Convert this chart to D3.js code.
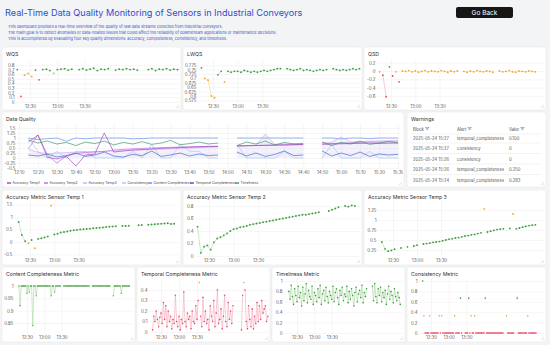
<!DOCTYPE html>
<html>
<head>
<meta charset="utf-8">
<script src="https://cdn.jsdelivr.net/npm/d3@7"></script>
<style>
  body { margin:0; background:#f3f4f5; }
  svg text { font-family: Inter, "Noto Sans", sans-serif; }
</style>
</head>
<body>
<svg id="dash"></svg>
<script>
var t = d3.timeParse("%H:%M");

// sample grids (timestamps of the readings)
var fineStart = t("12:16"), fineStep = 4, fineN = 49;    // rows 1 and 3
var denseStart = t("12:16"), denseStep = 2, denseN = 97;  // row 4
var dqStart = t("12:15"), dqStep = 5, dqN = 40;           // data quality

// row 1
var wqsValues = [0.70,0.12,0.58,0.62,0.55,0.69,0.48,0.70,0.71,0.68,
  0.62,0.70,0.71,0.72,0.69,0.71,null,0.70,0.72,0.69,
  0.71,0.73,0.68,0.71,0.70,0.72,null,0.69,0.71,0.70,
  0.72,0.70,0.71,0.69,null,null,0.70,0.72,0.68,0.71,
  0.70,0.72,0.69,0.71,0.70,0.72,0.69,0.71,0.70];
var lwqsValues = [0.76,0.70,0.69,0.60,0.59,0.72,0.74,0.68,0.74,0.735,
  0.74,0.74,0.735,0.745,0.74,0.735,0.74,0.735,0.74,0.745,
  0.74,0.745,0.75,0.755,0.755,null,0.755,0.75,0.745,0.75,
  0.755,0.745,0.75,0.745,0.74,0.745,0.75,0.745,0.75,null,
  0.755,0.75,0.745,0.75,0.745,0.75,0.755,0.75,0.755];
var qsdValues = [-0.02,-0.10,-0.62,0.10,-0.12,-0.02,-0.26,0.00,-0.01,0.01,
  -0.02,0.00,-0.03,-0.01,0.01,-0.02,0.00,-0.01,-0.02,0.01,
  -0.01,-0.03,0.00,-0.02,0.00,null,-0.01,-0.03,0.00,-0.02,
  0.01,-0.01,-0.02,0.00,-0.01,-0.03,null,0.00,-0.02,-0.01,
  0.01,-0.02,-0.03,0.00,-0.01,-0.02,0.00,-0.01,-0.02];

// row 3
var acc1Values = [0.80,0.28,0.03,-0.05,0.08,-0.25,0.12,0.15,0.18,0.22,
  1.45,0.30,0.33,0.38,0.40,0.42,0.45,0.47,0.48,0.50,
  0.51,0.52,0.53,0.55,0.56,0.57,0.58,0.60,0.61,0.62,
  0.63,null,0.64,0.64,0.65,null,null,0.67,0.68,null,
  0.69,0.70,0.71,0.72,0.73,0.74,0.75,0.72,0.73];
var acc2Values = [0.47,0.05,0.15,0.17,0.10,0.22,0.28,0.30,0.33,0.36,
  0.40,0.43,0.44,0.46,0.47,0.48,0.50,0.51,0.52,0.53,
  0.54,0.55,0.56,0.57,0.58,0.59,0.60,0.61,0.62,0.63,
  0.64,0.65,0.66,0.66,0.67,0.68,0.69,0.70,null,null,
  0.72,0.74,0.76,0.78,null,0.80,0.79,0.81,0.80];
var acc3Values = [0.45,0.28,0.22,0.24,0.27,null,0.30,null,0.33,null,
  0.35,0.37,null,0.40,0.41,0.42,0.44,0.45,0.46,0.48,
  0.50,0.52,0.53,0.55,0.56,0.58,0.60,0.61,0.63,0.64,
  0.66,0.68,1.28,0.70,0.72,0.74,0.76,0.77,0.78,null,
  0.79,1.15,0.78,0.80,0.82,0.84,0.86,0.87,0.88];

// row 4
var contentValues = [1,0.92,1,1,1,1,1,0.97,1,0.975,
  1,1,0.84,1,1,0.96,1,1,1,1,
  1,1,1,1,1,1,1,1,0.96,1,
  1,0.975,1,1,1,1,1,null,null,1,
  1,1,1,1,1,1,1,1,1,1,
  1,1,1,1,1,1,1,1,1,1,
  1,1,null,null,1,1,1,1,1,1,
  1,1,1,1,1,1,1,1,1,1,
  null,null,0.96,1,1,1,1,1,1,0.97,
  1,1,1,1,1,1,1];
var temporalValues = [0.02,0.15,0.10,0.20,0.12,0.05,0.14,0.18,0.08,0.28,
  0.12,0.25,0.05,0.20,0.10,0.15,0.03,0.12,0.08,0.35,
  0.10,0.05,0.15,0.02,0.12,0.08,0.38,0.10,0.05,0.18,
  0.12,0.15,0.03,0.20,0.10,0.08,0.25,0.12,0.30,0.47,
  0.15,0.05,0.33,0.10,0.20,0.08,0.12,0.02,0.25,0.15,
  0.10,0.30,0.05,0.18,0.40,0.08,0.12,0.22,0.03,0.15,
  0.35,0.10,0.05,0.28,0.12,0.20,0.08,0.25,null,null,
  null,null,null,null,0.02,0.35,0.47,0.40,0.10,0.03,
  0.25,0.12,0.05,0.22,0.03,0.15,0.08,0.28,0.10,0.25,
  0.12,0.30,0.18,0.22,0.25,0.10,0.15];
var timelinessValues = [0.80,0.65,0.92,0.70,0.55,0.85,0.72,0.60,0.90,0.68,
  0.78,0.52,0.88,0.62,0.75,0.95,0.58,0.82,0.70,0.65,
  0.90,0.55,0.78,0.72,0.60,0.85,0.68,0.92,0.55,0.75,
  0.82,0.62,0.88,0.70,0.58,0.80,0.72,0.65,0.90,0.60,
  0.78,0.85,0.68,0.55,0.82,0.72,0.88,0.62,0.75,0.70,
  0.90,0.58,0.80,0.65,0.85,0.72,0.52,0.78,0.88,0.60,
  0.75,0.82,0.68,0.92,0.58,0.78,0.70,0.85,null,null,
  null,null,0.90,0.62,0.95,0.70,0.58,0.85,0.72,0.88,
  0.60,0.78,0.68,0.82,0.55,0.75,0.90,0.65,0.80,0.72,
  0.58,0.85,0.70,0.62,0.78,0.68,0.55];
var consistencyValues = [1,0.33,0,0,0,0,0.33,0,0,0,
  0,0,0,0,0.33,0,0.33,0,0,0,
  0,0,0,0,0,0,0,0.33,0,0,
  0,0,0.67,0,null,null,0,0,0,0.67,
  0,0.33,0,0,0.33,0,0,0,0,0,
  0,0,0,0.67,0,0,0,0,0,0,
  0,0,0,0,0,0,0,0,0,null,
  null,0.33,0,0,0,0,0,0,null,null,
  0.67,0,0,0,0,0,0,0,0,0.33,
  0,0,0,0,0,0,0];

// data quality (all dimensions)
var dqSeriesNames = ["Accuracy Temp1","Accuracy Temp2","Accuracy Temp3","Consistency",
  "Content Completeness","Temporal Completeness","Timeliness"];
var dqAcc1 = [0.80,1.15,0.03,-0.05,0.08,-0.40,0.15,0.20,1.25,0.30,
  0.35,0.40,0.42,0.45,0.48,0.50,0.52,0.54,0.56,0.57,
  0.58,null,0.60,0.61,0.62,0.63,0.64,0.65,0.66,0.67,
  null,0.69,0.70,0.71,0.72,0.73,0.74,0.73,0.74,0.75];
var dqAcc2 = [0.47,1.15,0.15,-0.25,0.10,0.22,0.28,0.30,0.33,0.40,
  0.43,0.46,0.48,0.50,0.52,0.53,0.55,0.56,0.57,0.58,
  0.59,null,0.61,0.62,0.63,0.64,0.65,0.66,0.67,0.68,
  null,0.70,0.72,0.74,0.76,0.78,0.80,0.79,0.81,0.80];
var dqAcc3 = [0.45,0.28,0.22,0.25,0.27,0.29,0.30,0.32,0.33,0.35,
  0.37,0.39,0.41,0.43,0.44,0.46,0.48,0.50,0.52,0.54,
  0.56,null,0.60,0.62,0.64,1.20,0.68,0.70,0.72,0.74,
  null,0.78,0.79,1.05,0.80,0.82,0.84,0.86,0.87,0.88];
var dqConsistency = [1,0.33,0,0.33,0,0.33,0.33,0,0,0,
  0,0.33,0,0.67,0,0,0.67,0.33,0.33,0,
  0,null,0.67,0,0,0,0,0.33,0,0,
  null,0,0.67,0,0,0,0.33,0,0,0];
var dqContent = [1,0.92,0.97,1,0.84,1,0.96,1,1,1,
  1,0.96,0.97,1,1,1,1,1,1,1,
  1,null,1,1,1,1,1,1,1,1,
  null,1,1,0.96,1,1,0.97,1,1,1];
var dqTemporal = [0.15,0.10,0.20,0.05,0.12,0.25,0.08,0.15,0.30,0.10,
  0.05,0.18,0.12,0.35,0.08,0.15,0.25,0.10,0.20,0.12,
  0.15,null,0.30,0.10,0.25,0.08,0.18,0.35,0.12,0.15,
  null,0.35,0.10,0.25,0.12,0.30,0.08,0.20,0.15,0.18];
var dqTimeliness = [0.90,0.75,0.85,0.70,0.78,0.62,0.80,0.72,0.85,0.65,
  0.78,0.70,0.82,0.68,0.75,0.88,0.66,0.72,0.80,0.70,
  0.75,null,0.62,0.80,0.70,0.85,0.65,0.78,0.70,0.72,
  null,0.80,0.62,0.78,0.70,0.85,0.68,0.75,0.82,0.76];

// tick values
var wqsTicks = [0,0.1,0.2,0.3,0.4,0.5,0.6,0.7,0.8];
var lwqsTicks = [0.575,0.6,0.625,0.65,0.675,0.7,0.725,0.75,0.775];
var qsdTicks = [-0.6,-0.4,-0.2,0,0.2];
var acc1Ticks = [-0.5,0,0.5,1,1.5];
var acc2Ticks = [0,0.2,0.4,0.6,0.8];
var acc3Ticks = [0.25,0.5,0.75,1,1.25];
var contentTicks = [0.85,0.9,0.95,1];
var temporalTicks = [0,0.1,0.2,0.3,0.4];
var unitTicks = [0,0.2,0.4,0.6,0.8,1];
var dqTicks = [-0.5,-0.25,0,0.25,0.5,0.75,1,1.25,1.5];

// warnings table
var warnHeaders = ["Block","Alert","Valor"];
var warnBlock = ["2025-05-24 15:27","2025-05-24 15:27","2025-05-24 15:26","2025-05-24 15:26","2025-05-24 15:24"];
var warnAlert = ["temporal_completeness","consistency","consistency","temporal_completeness","temporal_completeness"];
var warnValor = ["0.100","0","0","0.250","0.283"];

var titleText = "Real-Time Data Quality Monitoring of Sensors in Industrial Conveyors";
var descLines = [
  "This dashboard provides a real-time overview of the quality of raw data streams collected from industrial conveyors.",
  "The main goal is to detect anomalies or data-related issues that could affect the reliability of downstream applications or maintenance decisions.",
  "This is accomplished by evaluating four key quality dimensions: accuracy, completeness, consistency, and timeliness."
];

// ---------------------------------------------------------------
var W = 550, H = 345;
var svg = d3.select("#dash").attr("width", W).attr("height", H);
svg.append("rect").attr("width", W).attr("height", H).attr("fill", "#f3f4f5");

var sampleTimes = function(start, step, n){
  return d3.range(n).map(function(i){ return d3.timeMinute.offset(start, i*step); });
};
var fineTimes = sampleTimes(fineStart, fineStep, fineN);
var denseTimes = sampleTimes(denseStart, denseStep, denseN);
var dqTimes = sampleTimes(dqStart, dqStep, dqN);

var fmt = function(v){ return String(+v.toFixed(3)); };
var timeFmt = d3.timeFormat("%H:%M");

// scale a text's font so that it spans the width
var fitWidth = function(sel, w){
  var cur = sel.node().getComputedTextLength();
  var fs = parseFloat(sel.attr("font-size")) * w / cur;
  sel.attr("font-size", fs);
  return fs;
};

// header
var title = svg.append("text").attr("x", 5).attr("y", 16).attr("font-size", 11)
  .attr("fill", "#2f4ccf").text(titleText);
fitWidth(title, 298);
var descWidths = [215, 268, 219];
descLines.forEach(function(s, i){
  var d = svg.append("text").attr("x", 8).attr("y", 27.5 + i*6).attr("font-size", 4.2)
    .attr("fill", "#3b55c4").text(s);
  fitWidth(d, descWidths[i]);
});
svg.append("rect").attr("x", 456).attr("y", 7).attr("width", 57).attr("height", 11)
  .attr("rx", 2).attr("fill", "#161616");
svg.append("text").attr("x", 484.5).attr("y", 15).attr("text-anchor", "middle")
  .attr("font-size", 6.5).attr("fill", "#fff").text("Go Back");

// panels
var panels = {
  wqs:   {x:2,   y:47,  w:179, h:63, title:"WQS"},
  lwqs:  {x:183, y:47,  w:179, h:63, title:"LWQS"},
  qsd:   {x:364, y:47,  w:182, h:63, title:"QSD"},
  dq:    {x:2,   y:112, w:402, h:75, title:"Data Quality"},
  warn:  {x:407, y:112, w:139, h:75, title:"Warnings"},
  acc1:  {x:2,   y:190, w:179, h:75, title:"Accuracy Metric Sensor Temp 1"},
  acc2:  {x:183, y:190, w:179, h:75, title:"Accuracy Metric Sensor Temp 2"},
  acc3:  {x:364, y:190, w:182, h:75, title:"Accuracy Metric Sensor Temp 3"},
  content:     {x:2,   y:267, w:133, h:75, title:"Content Completeness Metric"},
  temporal:    {x:137, y:267, w:133, h:75, title:"Temporal Completeness Metric"},
  timeliness:  {x:272, y:267, w:133, h:75, title:"Timeliness Metric"},
  consistency: {x:407, y:267, w:139, h:75, title:"Consistency Metric"}
};

var defs = svg.append("defs");
Object.keys(panels).forEach(function(k){
  var p = panels[k];
  svg.append("rect").attr("x", p.x).attr("y", p.y).attr("width", p.w).attr("height", p.h)
    .attr("rx", 3).attr("fill", "#fff").attr("stroke", "#e4e5e7").attr("stroke-width", 0.5);
  svg.append("text").attr("x", p.x + 4).attr("y", p.y + 8.5).attr("font-size", 5.2)
    .attr("fill", "#333").text(p.title);
  defs.append("clipPath").attr("id", "clip-" + k).append("rect")
    .attr("x", p.x + 1).attr("y", p.y + 1).attr("width", p.w - 2).attr("height", p.h - 2);
  // resize handle
  svg.append("path")
    .attr("d", "M" + (p.x+p.w-2) + "," + (p.y+p.h-5) + "L" + (p.x+p.w-5) + "," + (p.y+p.h-2)
      + "M" + (p.x+p.w-2) + "," + (p.y+p.h-3.2) + "L" + (p.x+p.w-3.2) + "," + (p.y+p.h-2))
    .attr("stroke", "#b8b8b8").attr("stroke-width", 0.4);
});

var palette = {
  g: {dot:"#3f9b3f", line:"#a6d8a0"},
  o: {dot:"#f4a62a", line:"#f8cf8c"},
  r: {dot:"#ec4467", line:"#f5a8b8"}
};

var styleAxis = function(g){
  g.select(".domain").remove();
  g.selectAll(".tick line").attr("stroke", "#ececec").attr("stroke-width", 0.5);
  g.selectAll(".tick text").attr("font-size", 4.4).attr("fill", "#555")
    .attr("font-family", "Inter, sans-serif");
};

var drawMetric = function(c){
  var p = panels[c.panel];
  var g = svg.append("g").attr("clip-path", "url(#clip-" + c.panel + ")");
  var x = d3.scaleTime().domain([t("12:30"), t("13:30")])
    .range([p.x + c.off, p.x + c.off + 60*c.ppm]);
  var y = d3.scaleLinear().domain(c.yDomain).range([c.bottom, c.top]);
  var left = p.x + c.left, right = p.x + p.w - 2;

  g.append("g").attr("transform", "translate(" + left + ",0)")
    .call(d3.axisLeft(y).tickValues(c.ticks).tickFormat(fmt)
      .tickSize(-(right - left)).tickPadding(1.5))
    .call(styleAxis);
  g.append("g").attr("transform", "translate(0," + c.bottom + ")")
    .call(d3.axisBottom(x).ticks(d3.timeMinute.every(30)).tickFormat(timeFmt)
      .tickSize(-(c.bottom - c.top)).tickPadding(1.5))
    .call(styleAxis);

  var pts = c.values.map(function(v, i){ return {t:c.times[i], v:v, k: v == null ? null : c.cls(v)}; });
  var segs = [];
  for (var i = 1; i < pts.length; i++) {
    if (pts[i].v != null && pts[i-1].v != null && pts[i].k === pts[i-1].k) segs.push([pts[i-1], pts[i]]);
  }
  g.selectAll("line.seg").data(segs).enter().append("line").attr("class", "seg")
    .attr("x1", function(d){ return x(d[0].t); }).attr("y1", function(d){ return y(d[0].v); })
    .attr("x2", function(d){ return x(d[1].t); }).attr("y2", function(d){ return y(d[1].v); })
    .attr("stroke", function(d){ return palette[d[0].k].line; }).attr("stroke-width", 0.6);
  g.selectAll("circle").data(pts.filter(function(d){ return d.v != null; })).enter().append("circle")
    .attr("cx", function(d){ return x(d.t); }).attr("cy", function(d){ return y(d.v); })
    .attr("r", c.r || 0.9).attr("fill", function(d){ return palette[d.k].dot; });
};

var metricCharts = [
  {panel:"wqs", times:fineTimes, values:wqsValues, ticks:wqsTicks, yDomain:[-0.022,0.908],
   top:60, bottom:103, left:14, off:28, ppm:0.91,
   cls:function(v){ return v >= 0.65 ? "g" : v >= 0.5 ? "o" : "r"; }},
  {panel:"lwqs", times:fineTimes, values:lwqsValues, ticks:lwqsTicks, yDomain:[0.5602,0.8045],
   top:60, bottom:103, left:15, off:30, ppm:0.823,
   cls:function(v){ return v >= 0.705 ? "g" : "o"; }},
  {panel:"qsd", times:fineTimes, values:qsdValues, ticks:qsdTicks, yDomain:[-0.771,0.265],
   top:60, bottom:103, left:13, off:27, ppm:0.81,
   cls:function(v){ return v > 0.06 ? "g" : v < -0.08 ? "r" : "o"; }},
  {panel:"acc1", times:fineTimes, values:acc1Values, ticks:acc1Ticks, yDomain:[-0.6,1.68],
   top:200, bottom:257, left:12, off:28, ppm:0.81,
   cls:function(v){ return v >= 0 && v <= 1 ? "g" : "o"; }},
  {panel:"acc2", times:fineTimes, values:acc2Values, ticks:acc2Ticks, yDomain:[-0.016,0.896],
   top:200, bottom:257, left:12, off:26, ppm:0.82,
   cls:function(v){ return v >= 0 && v <= 1 ? "g" : "o"; }},
  {panel:"acc3", times:fineTimes, values:acc3Values, ticks:acc3Ticks, yDomain:[0.075,1.5],
   top:200, bottom:257, left:14, off:29, ppm:0.80,
   cls:function(v){ return v >= 0 && v <= 1 ? "g" : "o"; }},
  {panel:"content", times:denseTimes, values:contentValues, ticks:contentTicks, yDomain:[0.806,1.032],
   top:278, bottom:334, left:13, off:25, ppm:0.575, r:0.7,
   cls:function(v){ return "g"; }},
  {panel:"temporal", times:denseTimes, values:temporalValues, ticks:temporalTicks, yDomain:[-0.019,0.514],
   top:278, bottom:334, left:12, off:24, ppm:0.6, r:0.8,
   cls:function(v){ return v >= 0.45 ? "o" : "r"; }},
  {panel:"timeliness", times:denseTimes, values:timelinessValues, ticks:unitTicks, yDomain:[-0.019,1.058],
   top:278, bottom:334, left:12, off:25, ppm:0.58, r:0.8,
   cls:function(v){ return "g"; }},
  {panel:"consistency", times:denseTimes, values:consistencyValues, ticks:unitTicks, yDomain:[-0.019,1.058],
   top:278, bottom:334, left:12, off:24, ppm:0.59, r:0.8,
   cls:function(v){ return v >= 0.6 ? "g" : v > 0.1 ? "o" : "r"; }}
];
metricCharts.forEach(drawMetric);

// data quality multi-line chart
(function(){
  var p = panels.dq;
  var g = svg.append("g").attr("clip-path", "url(#clip-dq)");
  var top = 124, bottom = 168, left = p.x + 15, right = p.x + p.w - 3;
  var x = d3.scaleTime().domain([t("12:10"), t("15:30")]).range([19, 398]);
  var y = d3.scaleLinear().domain([-0.5, 1.7]).range([bottom, top]);
  g.append("g").attr("transform", "translate(" + left + ",0)")
    .call(d3.axisLeft(y).tickValues(dqTicks).tickFormat(fmt).tickSize(-(right-left)).tickPadding(1.5))
    .call(styleAxis);
  g.append("g").attr("transform", "translate(0," + bottom + ")")
    .call(d3.axisBottom(x).ticks(d3.timeMinute.every(10)).tickFormat(timeFmt)
      .tickSize(-(bottom-top)).tickPadding(3))
    .call(styleAxis);

  var series = [dqAcc1, dqAcc2, dqAcc3, dqConsistency, dqContent, dqTemporal, dqTimeliness];
  var colors = ["#9a3fbf", "#b865dd", "#d8a4f2", "#a9c6f4", "#5f8ce9", "#3c5ec6", "#3f8f60"];
  var toPts = function(vals){ return vals.map(function(v, i){ return {t:dqTimes[i], v:v}; }); };
  var area = d3.area().defined(function(d){ return d.v != null; })
    .x(function(d){ return x(d.t); }).y0(y(0)).y1(function(d){ return y(d.v); });
  g.append("path").datum(toPts(dqAcc3)).attr("d", area)
    .attr("fill", "#c9c2f2").attr("fill-opacity", 0.22);
  var line = d3.line().defined(function(d){ return d.v != null; })
    .x(function(d){ return x(d.t); }).y(function(d){ return y(d.v); });
  var order = [3, 4, 2, 1, 0, 5, 6];
  order.forEach(function(k){
    g.append("path").datum(toPts(series[k])).attr("d", line)
      .attr("fill", "none").attr("stroke", colors[k]).attr("stroke-width", 0.65);
  });

  var legX = [7, 44, 83, 122, 148, 190, 235];
  var leg = svg.selectAll("g.leg").data(dqSeriesNames).enter().append("g").attr("class", "leg")
    .attr("transform", function(d, i){ return "translate(" + legX[i] + ",183)"; });
  leg.append("line").attr("x1", 0).attr("x2", 4).attr("y1", 0).attr("y2", 0)
    .attr("stroke", function(d, i){ return colors[i]; }).attr("stroke-width", 1.4);
  leg.append("text").attr("x", 5.5).attr("y", 1.3).attr("font-size", 3.5).attr("fill", "#444")
    .text(function(d){ return d; });
})();

// warnings table
(function(){
  var p = panels.warn;
  var colX = [p.x + 6, p.x + 50, p.x + 102];
  var rowY = [139.5, 150, 160.5, 171, 181.5];
  var g = svg.append("g");
  // font size from the width of the alert column in the reference
  var probe = g.append("text").attr("font-size", 4).text(warnAlert[0]);
  var fs = fitWidth(probe, 47);
  probe.remove();
  g.selectAll("text.h").data(warnHeaders).enter().append("text").attr("class", "h")
    .attr("x", function(d, i){ return colX[i]; }).attr("y", 131)
    .attr("font-size", fs).attr("fill", "#444").text(function(d){ return d + " \u25BD"; });
  g.selectAll("line.sep").data([134].concat(rowY.map(function(v){ return v + 3.5; }).slice(0, 4)))
    .enter().append("line").attr("class", "sep")
    .attr("x1", p.x + 4).attr("x2", p.x + p.w - 5)
    .attr("y1", function(d){ return d; }).attr("y2", function(d){ return d; })
    .attr("stroke", "#e6e6e6").attr("stroke-width", 0.5);
  [warnBlock, warnAlert, warnValor].forEach(function(col, ci){
    g.selectAll("text.c" + ci).data(col).enter().append("text").attr("class", "c" + ci)
      .attr("x", colX[ci]).attr("y", function(d, i){ return rowY[i]; })
      .attr("font-size", fs).attr("fill", "#555").text(function(d){ return d; });
  });
})();
</script>
</body>
</html>
